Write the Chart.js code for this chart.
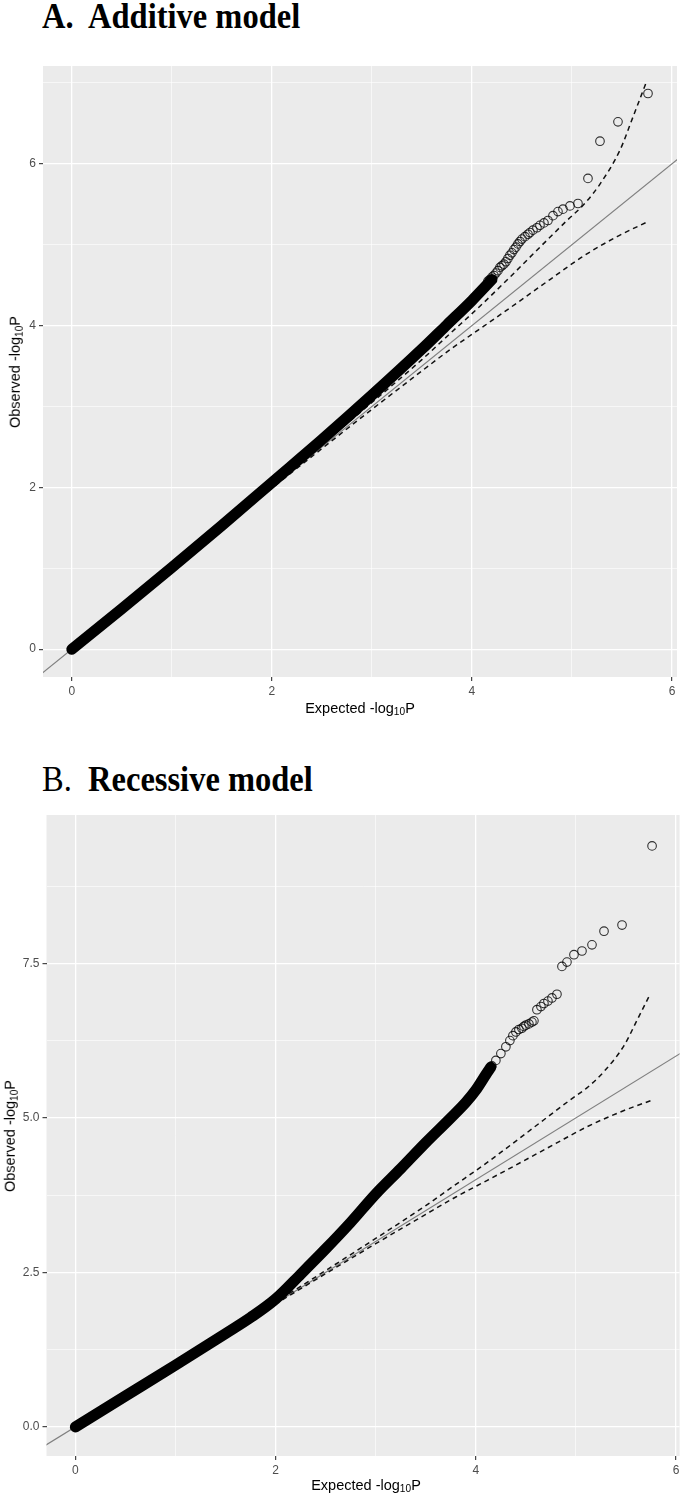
<!DOCTYPE html>
<html>
<head>
<meta charset="utf-8">
<script src="https://cdn.jsdelivr.net/npm/chart.js@4.4.1/dist/chart.umd.min.js"></script>
<style>
body { margin:0; background:#fff; width:685px; height:1495px; position:relative; overflow:hidden; font-family:"Liberation Sans", Arial, sans-serif; }
.titulo { position:absolute; left:42px; font-family:"Liberation Serif","Times New Roman",serif; font-size:32.5px; line-height:1; white-space:pre; color:#000; transform:scaleY(1.12); transform-origin:0 60%; }
canvas { position:absolute; left:0; }
.xlab, .ylab { position:absolute; font-size:14.5px; color:#000; white-space:nowrap; line-height:1; }
.xlab { transform:translate(-50%,-50%); }
.ylab { transform:translate(-50%,-50%) rotate(-90deg); }
sub { font-size:0.7em; vertical-align:-0.25em; line-height:0; }
</style>
</head>
<body>

<div class="titulo" style="top:0px"><b>A.  Additive model</b></div>
<canvas id="graficoA" width="685" height="700" style="top:0px"></canvas>
<div class="xlab" style="left:360px; top:708px">Expected -log<sub>10</sub>P</div>
<div class="ylab" style="left:15px; top:372px">Observed -log<sub>10</sub>P</div>

<div class="titulo" style="top:763px">B.  <b>Recessive model</b></div>
<canvas id="graficoB" width="685" height="755" style="top:740px"></canvas>
<div class="xlab" style="left:366px; top:1485px">Expected -log<sub>10</sub>P</div>
<div class="ylab" style="left:10px; top:1136px">Observed -log<sub>10</sub>P</div>

<script>
// ticks
const xTicks = [0, 2, 4, 6];
const xTickLabels = ['0', '2', '4', '6'];
const xMinor = [1, 3, 5];
const yTicksA = [0, 2, 4, 6];
const yTickLabelsA = ['0', '2', '4', '6'];
const yMinorA = [1, 3, 5, 7];
const yTicksB = [0, 2.5, 5, 7.5];
const yTickLabelsB = ['0.0', '2.5', '5.0', '7.5'];
const yMinorB = [1.25, 3.75, 6.25, 8.75];

// y = x reference line
const refLine = [-1, 7];

// confidence band (same in both panels)
const ciUpX = [0, 1, 2, 2.5, 3, 3.5, 3.78, 4.08, 4.38, 4.68, 4.95, 5.12, 5.28, 5.48, 5.61, 5.74];
const ciUp = [0, 1.01, 2.02, 2.53, 3.05, 3.58, 3.9, 4.24, 4.6, 4.97, 5.3, 5.5, 5.75, 6.17, 6.58, 7.0];
const ciLowX = [0, 1, 2, 2.5, 3, 3.5, 3.8, 4.115, 4.45, 4.78, 5.115, 5.45, 5.765];
const ciLow = [0, 0.99, 1.99, 2.48, 2.965, 3.44, 3.72, 3.99, 4.28, 4.57, 4.86, 5.10, 5.29];

// A: dense part of the points (drawn as thick band) and the separated tail points
const bandExpA = [0, 0.5, 1, 1.5, 2, 2.5, 3, 3.5, 3.75, 4.0, 4.2];
const bandObsA = [0, 0.5, 1.01, 1.53, 2.06, 2.59, 3.14, 3.71, 4.01, 4.31, 4.57];
const expA = [4.16, 4.18, 4.20, 4.22, 4.24, 4.26, 4.28, 4.30, 4.32, 4.34, 4.36, 4.38, 4.40, 4.42, 4.44, 4.46, 4.48, 4.50,
  4.53, 4.56, 4.58, 4.61, 4.65, 4.68, 4.72, 4.76, 4.81, 4.86, 4.91, 4.98, 5.06, 5.16, 5.28, 5.46, 5.76];
const obsA = [4.55, 4.57, 4.60, 4.62, 4.65, 4.68, 4.72, 4.74, 4.76, 4.79, 4.83, 4.87, 4.90, 4.94, 4.97, 5.01, 5.04, 5.07,
  5.10, 5.13, 5.15, 5.18, 5.21, 5.24, 5.27, 5.30, 5.36, 5.41, 5.44, 5.48, 5.51, 5.82, 6.28, 6.52, 6.87];

// B
const bandExpB = [0, 0.5, 1, 1.5, 1.75, 2, 2.25, 2.5, 2.75, 3, 3.25, 3.5, 3.75, 3.9, 4.0, 4.1, 4.15];
const bandObsB = [0, 0.5, 1.0, 1.51, 1.77, 2.07, 2.47, 2.88, 3.31, 3.77, 4.18, 4.6, 5.0, 5.25, 5.45, 5.7, 5.82];
const expB = [4.16, 4.20, 4.25, 4.30, 4.34, 4.37, 4.40, 4.43, 4.46, 4.48, 4.50, 4.53, 4.56, 4.58,
  4.61, 4.65, 4.68, 4.72, 4.76, 4.81, 4.86, 4.91, 4.98, 5.06, 5.16, 5.28, 5.46, 5.76];
const obsB = [5.84, 5.93, 6.04, 6.15, 6.25, 6.33, 6.39, 6.43, 6.45, 6.48, 6.50, 6.52, 6.55, 6.57,
  6.75, 6.80, 6.85, 6.89, 6.94, 7.0, 7.45, 7.52, 7.64, 7.70, 7.80, 8.02, 8.12, 9.40];

function puntos(xs, ys) {
  return xs.map((x, i) => ({ x: x, y: ys[i] }));
}

const fondoPanel = {
  id: 'fondoPanel',
  beforeDraw(chart) {
    const { ctx, chartArea: a } = chart;
    ctx.save();
    ctx.fillStyle = '#ebebeb';
    ctx.fillRect(a.left, a.top, a.right - a.left, a.bottom - a.top);
    ctx.restore();
  }
};

function escala(min, max, major, labels, minor, fit) {
  const todos = major.concat(minor).sort((a, b) => a - b);
  const esMayor = v => major.indexOf(v) >= 0;
  return {
    type: 'linear', min: min, max: max,
    afterBuildTicks: s => { s.ticks = todos.map(v => ({ value: v })); },
    afterFit: fit,
    border: { display: false },
    grid: {
      color: '#ffffff',
      lineWidth: c => (c.tick && esMayor(c.tick.value)) ? 1.3 : 0.6,
      tickColor: c => (c.tick && esMayor(c.tick.value)) ? '#333333' : 'rgba(0,0,0,0)',
      tickLength: 4,
      tickWidth: 1.1
    },
    ticks: {
      autoSkip: false, maxRotation: 0, padding: 3,
      color: '#4d4d4d',
      font: { family: 'Liberation Sans', size: 12 },
      callback: v => { const i = major.indexOf(v); return i >= 0 ? labels[i] : ''; }
    }
  };
}

function datasets(bandX, bandY, tailX, tailY) {
  return [
    { data: puntos(refLine, refLine), showLine: true, borderColor: '#808080', borderWidth: 1.2, pointRadius: 0, clip: 0, order: 4 },
    { data: puntos(ciUpX, ciUp), showLine: true, borderColor: '#111', borderWidth: 1.5, borderDash: [5, 4],
      pointRadius: 0, cubicInterpolationMode: 'monotone', order: 3 },
    { data: puntos(ciLowX, ciLow), showLine: true, borderColor: '#111', borderWidth: 1.5, borderDash: [5, 4],
      pointRadius: 0, cubicInterpolationMode: 'monotone', order: 3 },
    { data: puntos(bandX, bandY), showLine: true, borderColor: '#000', borderWidth: 11, borderCapStyle: 'round',
      borderJoinStyle: 'round', pointRadius: 0, cubicInterpolationMode: 'monotone', order: 2 },
    { data: puntos(tailX, tailY), showLine: false, pointRadius: 4.3, pointBorderWidth: 1.1,
      pointBorderColor: 'rgba(0,0,0,0.8)', pointBackgroundColor: 'rgba(0,0,0,0)', order: 1 }
  ];
}

function grafico(id, data, x, y, padding) {
  return new Chart(document.getElementById(id), {
    type: 'scatter',
    data: { datasets: data },
    options: {
      responsive: false, animation: false, events: [],
      layout: { padding: padding },
      plugins: { legend: { display: false }, tooltip: { enabled: false } },
      scales: { x: x, y: y }
    },
    plugins: [fondoPanel]
  });
}

grafico('graficoA', datasets(bandExpA, bandObsA, expA, obsA),
  escala(-0.288, 6.05, xTicks, xTickLabels, xMinor, s => { s.height = 23; }),
  escala(-0.344, 7.21, yTicksA, yTickLabelsA, yMinorA, s => { s.width = 43; }),
  { top: 66, right: 8, left: 0, bottom: 0 });

grafico('graficoB', datasets(bandExpB, bandObsB, expB, obsB),
  escala(-0.288, 6.035, xTicks, xTickLabels, xMinor, s => { s.height = 39; }),
  escala(-0.47, 9.9, yTicksB, yTickLabelsB, yMinorB, s => { s.width = 46.5; }),
  { top: 75, right: 0, left: 0, bottom: 0 });
</script>
</body>
</html>
